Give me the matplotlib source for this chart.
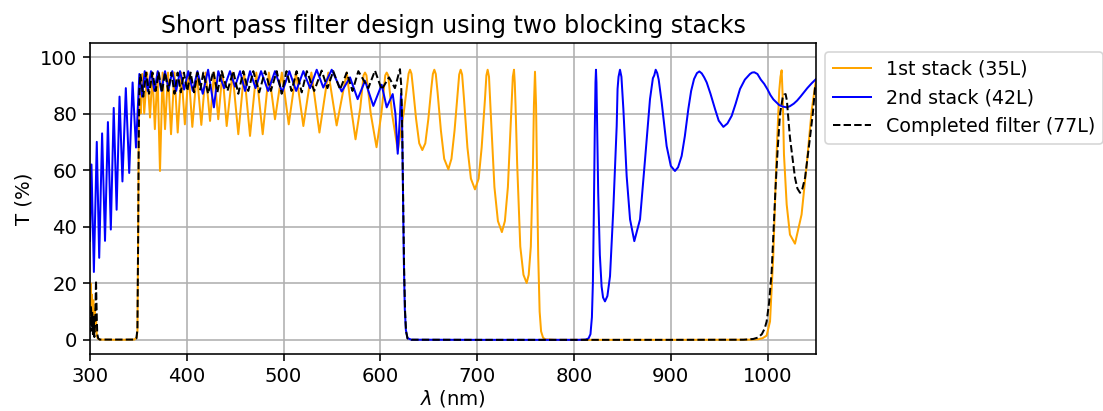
import matplotlib
matplotlib.use("Agg")
import matplotlib.pyplot as plt

# ---- data (wavelength nm, transmission %) ----
wl_1st = [300, 300.7, 301.3, 302, 302.7, 303.4, 304, 304.8, 305.5, 306.3, 307, 308, 310, 330, 346, 348, 349, 349.8, 350.5, 351.3, 352.3,
          354, 356, 359, 362, 364.5, 367, 369.7, 372.3, 375, 377.5, 380.6, 383.7, 387.2, 390.6, 394.3, 398, 401.9, 405.7, 410.3, 415,
          419.5, 424, 428.2, 432.5, 436.8, 441.2, 447.2, 453.2, 459.2, 465.3, 471.8, 478.4, 484.8, 491.1, 498.2, 505.3, 512.8, 520.4,
          528.7, 537, 546.2, 554.8, 565.2, 569.7, 574.3, 579.2, 582.6, 584.1, 585.6, 590, 596, 601, 605, 606.5, 608, 612, 618, 624,
          629.1, 630.6, 632.1, 633.7, 636.9, 640.1,
          643.3, 646.4, 649.5, 652.6, 654.2, 655.7, 657.2, 659.1, 662.5, 665.9, 670.2, 673.4, 676.6, 679.8, 681.4, 682.9, 684.4,
          686.4, 689.9, 693.5, 697.7, 701.5,
          704.6, 708, 709.5, 710.8, 712.2, 714.3, 717.8, 721.4, 725.5, 728.6, 731.7, 734.9, 736.8, 738, 738.8, 739.6, 741.3, 744.5,
          747.8, 751.1, 753.2, 755.4,
          757.6, 758.6, 759.7, 760.8, 761.8, 763, 764.5, 766, 768, 770, 780, 900, 980, 990, 995, 999, 1002.5, 1005.9, 1009.3, 1012,
          1013.3, 1014.5, 1015.7, 1016.9, 1019.7, 1023.1, 1028.3, 1035.1, 1040.4, 1045.5, 1050]
T_1st = [12, 20, 8, 16, 6, 14, 4, 11, 3, 7, 1.5, 0.5, 0.1, 0, 0.1, 0.8, 3, 40, 80, 88, 80,
         94, 80, 94.5, 78.6, 94.5, 74.5, 94.5, 59.7, 94.5, 74.5, 94.5, 72.7, 94.5, 73.3, 94.5, 76.2, 94.5, 75.3, 94.5, 76,
         94.5, 77.4, 94.5, 78, 94.5, 75.6, 94.5, 72.7, 94.5, 72.1, 94.5, 72.7, 94.5, 78, 94.5, 76.2, 94.5, 75.6,
         94.5, 73.3, 94.5, 75.8, 94.5, 82, 70.9, 82, 93.5, 94.5, 93.5, 80, 68.1, 80, 93.5, 94.5, 93.5, 80, 67, 80,
         94.1, 95.5, 94.1, 89, 78, 69.5,
         67.1, 69.5, 78, 89, 94, 95.5, 94, 87.4, 74, 64, 60.3, 64, 74, 87.4, 93.8, 95.5, 93.8,
         85, 68, 57, 53.2, 57,
         68, 85, 93.5, 95.5, 93, 78, 54, 42, 38.1, 42, 54, 78, 93, 95.5, 91, 83, 62, 33,
         23, 20.1, 23, 33,
         62, 83, 94.8, 83, 60, 30, 10, 3, 0.8, 0.2, 0, 0, 0.05, 0.2, 0.6, 1.5, 6.5, 30, 65.6, 88,
         93, 95.3, 85, 65.6, 47.9, 37.2, 34, 44.3, 62, 81, 92]

wl_2nd = [300, 301.5, 304, 307, 309.5, 312.5, 315.5, 318.5, 321.5, 324.5, 327.5, 330.5, 333.5, 337, 340.5, 344, 347.5, 351,
          353.8, 356.5, 359.7, 363, 366.5, 370, 373.7, 377.5, 381.2, 385, 389, 393, 397.2, 401.5, 406.2, 411, 416.5, 422, 428,
          432.5, 438.5, 444.6, 449.8, 455, 460.2, 465.3, 471, 476.7, 484, 491.1, 498.5, 505.9, 513, 520.4, 527.3, 534.2, 541,
          549.7, 560, 568.6, 576.5, 584.1, 592.7, 601.3, 606.5, 612.7, 615.5, 617.9, 620, 621.3, 622.3, 623.2, 624.2, 625.2,
          626.3, 628, 632, 700, 805, 812, 815, 817, 818.5, 819.5, 820.5, 821.5, 822.2, 822.7, 823.2, 823.8, 825, 826.7, 828.5,
          830, 832, 834.5, 837.2, 840.6, 844.1, 845, 846, 847.5, 849, 851, 854.4, 857.9, 862.3, 868.2, 873.4, 878.5, 881.5,
          882.9, 884.4, 886, 887.5, 890.6, 895.7, 900, 904.3, 907.5, 911.2, 914.5, 918.1, 921, 924, 927, 929.5, 932, 934.5,
          937.1, 941, 945.7, 949.5, 954.3, 958.5, 962.9, 967, 971.5, 976.5, 981.8, 984, 986.3, 989.5, 993, 996.5,
          1000, 1003, 1006, 1009, 1012, 1015.5, 1019.7, 1023, 1027, 1030.5, 1034, 1037.5, 1041, 1045.5, 1050]
T_2nd = [35, 62, 24, 70, 29, 73, 35, 77, 39, 82, 46, 86, 56, 89, 59, 91, 68, 94,
         86, 95, 88, 95, 88, 95, 88, 95, 88.5, 95, 88, 95, 88.5, 95, 88, 95, 87, 95.5, 82.2,
         95, 89, 95, 89.5, 95, 88, 95, 89, 95, 88, 95, 87.5, 95, 88, 95, 89, 95.5, 89.2,
         95.5, 87.8, 92.8, 85.1, 91.6, 82.7, 90.2, 82.2, 86.9, 80, 65.8, 78, 87, 80, 55, 28, 11,
         3.5, 0.6, 0.05, 0, 0, 0.1, 0.5, 2, 8, 20, 45, 75, 91, 95.5, 91, 78, 52, 30, 18.9,
         15, 13.6, 15.5, 22.5, 46.1, 75.6, 88.7, 93, 95.5, 93, 81.6, 57.9, 42.6, 34.9, 42.6, 63.8, 85.1, 92.5,
         93.5, 95.5, 94.3, 92, 83.9, 68.5, 61.5, 59.7, 61, 65, 72, 81.6, 88, 92.2, 94.3, 94.9, 94.2, 92.8,
         91, 87, 81.6, 77.5, 75.3, 76.5, 79.2, 83.5, 88.7, 92, 94, 94.5, 94.6, 94, 92, 90.5,
         88.5, 86.5, 85, 84, 83, 82.5, 82.2, 82.6, 83.5, 84.6, 86, 87.5, 89, 90.7, 92.2]

wl_full = [300, 300.5, 301, 301.7, 302.3, 303, 303.8, 304.5, 305.3, 306.2, 307, 307.5, 308.5, 310, 346, 348, 349, 349.7, 350.3,
           351, 352, 355, 358, 361, 364.5, 367.8, 371, 374.3, 377.5, 380.8, 384, 387.3, 390.5, 393.8, 397, 400.5, 404, 407.5,
           411, 414, 417, 422, 427.3, 431.6, 436, 442, 448, 453.2, 458.4, 463.5, 468.7, 474.8, 480.8, 486.8, 492.9, 498, 503,
           508.2, 513.4, 518.7, 524, 531.6, 539.3, 545.3, 551.3, 558.3, 565.2, 571.2, 577.2, 587.5, 594.4, 601.3, 608.9, 615,
           620.2, 621.5, 622.5, 623.5, 624.5, 625.5, 626.5, 628, 632, 700, 900, 975, 985, 990, 994, 997, 999, 1001.5, 1004.2,
           1008.2, 1010.5, 1012.8, 1015.5, 1017, 1018.6, 1020, 1021, 1023.1, 1028.3, 1030.8, 1033.5, 1036, 1038.7, 1043.8,
           1047, 1049, 1050]
T_full = [8, 3, 12, 5, 10, 2, 8, 1, 6, 21, 8, 2, 0.5, 0.1, 0.1, 0.5, 4, 35, 70,
          88, 94, 86, 94.5, 87, 94.5, 88, 94.5, 87.5, 94.5, 88, 94.5, 87, 94.5, 87.5, 94.5, 88, 94.5, 87.5,
          94.5, 88.5, 94.5, 87, 95, 87.5, 95, 88, 95, 87, 95, 88, 95, 87.5, 95, 88, 95, 87, 95,
          88, 95, 87.5, 95, 88, 95.2, 89, 95, 88.5, 94.5, 88, 95, 89, 95.2, 88.5, 92.8, 89,
          95.7, 90, 75, 50, 25, 10, 3, 0.5, 0.05, 0, 0, 0.05, 0.3, 0.8, 2, 4, 6.5, 13, 24.2,
          53.8, 68, 79.8, 85.5, 86.7, 86.9, 84.5, 80, 71.5, 57.3, 53.5, 52, 53.5, 57.3, 71.5,
          81, 89.2, 90]

labels = ["1st stack (35L)", "2nd stack (42L)", "Completed filter (77L)"]
x_ticks = [300, 400, 500, 600, 700, 800, 900, 1000]
y_ticks = [0, 20, 40, 60, 80, 100]

plt.rcParams.update({
    "font.size": 11.8,
    "lines.linewidth": 1.2,
    "axes.linewidth": 0.96,
    "grid.linewidth": 0.96,
    "xtick.major.size": 4.2,
    "ytick.major.size": 4.2,
    "xtick.major.width": 0.96,
    "ytick.major.width": 0.96,
    "lines.dashed_pattern": (3.7, 1.6),
})

fig = plt.figure(figsize=(1103 / 120, 411 / 120), dpi=120)
ax = fig.add_axes([0.0816, 0.1387, 0.6582, 0.757])

ax.plot(wl_1st, T_1st, color="orange", label=labels[0])
ax.plot(wl_2nd, T_2nd, color="blue", label=labels[1])
ax.plot(wl_full, T_full, "k--", label=labels[2])

ax.set_xlim(300, 1050)
ax.set_ylim(-5, 105)
ax.set_xticks(x_ticks)
ax.set_yticks(y_ticks)
ax.grid(True)
ax.set_xlabel(r"$\lambda$ (nm)", labelpad=1.5)
ax.set_ylabel("T (%)")
ax.set_title("Short pass filter design using two blocking stacks")
ax.legend(loc="upper left", bbox_to_anchor=(1, 1), fontsize=11.4)

fig.savefig("out.png", dpi=120)
